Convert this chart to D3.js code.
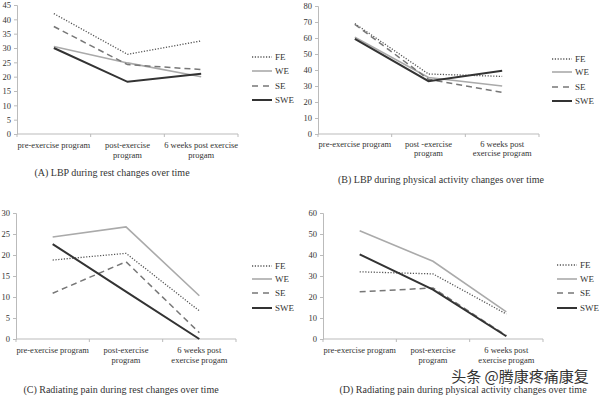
<!DOCTYPE html>
<html lang="en">
<head>
<meta charset="UTF-8">
<title>Pain changes over time</title>
<script src="https://d3js.org/d3.v7.min.js"></script>
<style>
  body { margin: 0; background: #fff; }
  text { font-family: "Liberation Serif", "DejaVu Serif", serif; fill: #333; }
</style>
</head>
<body>
<script>
// series names
var seriesNames = ["FE", "WE", "SE", "SWE"];

// x tick labels (split into lines) per panel
var catsA = [["pre-exercise program"], ["post-exercise", "program"], ["6 weeks post exercise", "progam"]];
var catsB = [["pre-exercise program"], ["post -exercise", "program"], ["6 weeks post", "exercise program"]];
var catsC = [["pre-exercise program"], ["post-exercise", "program"], ["6 weeks post", "exercise progam"]];
var catsD = [["pre-exercise program"], ["post-exercise", "program"], ["6 weeks post", "exercise progam"]];

// values: FE, WE, SE, SWE
var valuesA = [[42, 27.8, 32.5], [30.5, 24.8, 20], [37.5, 24.2, 22.5], [30, 18.2, 21]];
var valuesB = [[69, 37.5, 36], [60.5, 35.3, 30], [68.5, 34.2, 26], [59.5, 33, 39.5]];
var valuesC = [[18.8, 20.4, 6.7], [24.3, 26.7, 10.3], [10.9, 18.4, 1.5], [22.6, 11.3, 0]];
var valuesD = [[32, 31, 11.9], [51.5, 37, 12.9], [22.5, 24.3, 1.6], [40.3, 23.5, 1.3]];

// y tick values
var ticksA = [0, 5, 10, 15, 20, 25, 30, 35, 40, 45];
var ticksB = [0, 10, 20, 30, 40, 50, 60, 70, 80];
var ticksC = [0, 5, 10, 15, 20, 25, 30];
var ticksD = [0, 10, 20, 30, 40, 50, 60];

var titles = [
  "(A) LBP during rest changes over time",
  "(B) LBP during physical activity changes over time",
  "(C) Radiating pain during rest changes over time",
  "(D) Radiating pain during physical activity changes over time"
];

// line styles per series
var styles = {
  FE:  { color: "#555", width: 1.3, dash: "1.2,1.6" },
  WE:  { color: "#aaa", width: 1.6, dash: null },
  SE:  { color: "#777", width: 1.5, dash: "6,4" },
  SWE: { color: "#333", width: 2, dash: null }
};

var svg = d3.select("body").append("svg")
  .attr("width", 600)
  .attr("height", 397);

svg.append("rect").attr("width", 600).attr("height", 397).attr("fill", "#fff");

var panels = [
  { cats: catsA, vals: valuesA, ticks: ticksA, max: 45, x0: 17, x1: 238, top: 5, bottom: 134,
    legX: 252, legY: [57, 71, 86, 100], titleX: 112, titleY: 176, lab1: 148, lab2: 158 },
  { cats: catsB, vals: valuesB, ticks: ticksB, max: 80, x0: 318, x1: 539, top: 6, bottom: 134,
    legX: 552, legY: [59, 72, 87, 101], titleX: 441, titleY: 183, lab1: 147, lab2: 156 },
  { cats: catsC, vals: valuesC, ticks: ticksC, max: 30, x0: 16, x1: 236, top: 213, bottom: 339,
    legX: 252, legY: [266, 279, 293, 308], titleX: 121, titleY: 393, lab1: 353, lab2: 363 },
  { cats: catsD, vals: valuesD, ticks: ticksD, max: 60, x0: 323, x1: 543, top: 213, bottom: 339,
    legX: 557, legY: [265, 279, 293, 308], titleX: 463, titleY: 393, lab1: 353, lab2: 363 }
];

panels.forEach(function(p, pi) {
  var g = svg.append("g");

  var x = d3.scaleBand()
    .domain(d3.range(p.cats.length))
    .range([p.x0, p.x1]);

  var y = d3.scaleLinear()
    .domain([0, p.max])
    .range([p.bottom, p.top]);

  // y axis
  var yAxis = g.append("g")
    .attr("transform", "translate(" + p.x0 + ",0)")
    .call(d3.axisLeft(y).tickValues(p.ticks).tickSize(3).tickPadding(3));
  yAxis.select(".domain").attr("stroke", "#bbb");
  yAxis.selectAll(".tick line").attr("stroke", "#bbb");
  yAxis.selectAll(".tick text")
    .attr("font-size", "8.5px")
    .style("font-family", "'Liberation Serif', serif")
    .attr("fill", "#444");

  // x axis with ticks at band edges
  var xAxis = g.append("g")
    .attr("transform", "translate(0," + p.bottom + ")");
  xAxis.append("line")
    .attr("x1", p.x0).attr("x2", p.x1)
    .attr("stroke", "#bbb");
  var edges = d3.range(p.cats.length + 1).map(function(i) { return p.x0 + i * x.step(); });
  xAxis.selectAll("line.tk").data(edges).join("line")
    .attr("class", "tk")
    .attr("x1", d => d).attr("x2", d => d)
    .attr("y1", 0).attr("y2", 3)
    .attr("stroke", "#bbb");

  // x tick labels
  p.cats.forEach(function(lines, i) {
    lines.forEach(function(s, li) {
      g.append("text")
        .attr("x", x(i) + x.bandwidth() / 2)
        .attr("y", li === 0 ? p.lab1 : p.lab2)
        .attr("text-anchor", "middle")
        .attr("font-size", "8.5px")
        .text(s);
    });
  });

  // series lines
  var line = d3.line()
    .x((d, i) => x(i) + x.bandwidth() / 2)
    .y(d => y(d));

  seriesNames.forEach(function(name, si) {
    var st = styles[name];
    g.append("path")
      .datum(p.vals[si])
      .attr("d", line)
      .attr("fill", "none")
      .attr("stroke", st.color)
      .attr("stroke-width", st.width)
      .attr("stroke-dasharray", st.dash);
  });

  // legend
  seriesNames.forEach(function(name, si) {
    var st = styles[name];
    g.append("line")
      .attr("x1", p.legX).attr("x2", p.legX + 20)
      .attr("y1", p.legY[si]).attr("y2", p.legY[si])
      .attr("stroke", st.color)
      .attr("stroke-width", st.width)
      .attr("stroke-dasharray", name === "SE" ? "6,5" : st.dash);
    g.append("text")
      .attr("x", p.legX + 23)
      .attr("y", p.legY[si] + 3)
      .attr("font-size", "9px")
      .text(name);
  });

  // title
  g.append("text")
    .attr("x", p.titleX)
    .attr("y", p.titleY)
    .attr("text-anchor", "middle")
    .attr("font-size", "10px")
    .text(titles[pi]);
});

// watermark
svg.append("text")
  .attr("x", 520)
  .attr("y", 382)
  .attr("text-anchor", "middle")
  .style("font-family", "'Noto Sans CJK SC', sans-serif")
  .attr("font-size", "15px")
  .attr("fill", "#555")
  .attr("stroke", "#fff")
  .attr("stroke-width", 0.6)
  .attr("paint-order", "stroke")
  .text("头条 @腾康疼痛康复");
</script>
</body>
</html>
